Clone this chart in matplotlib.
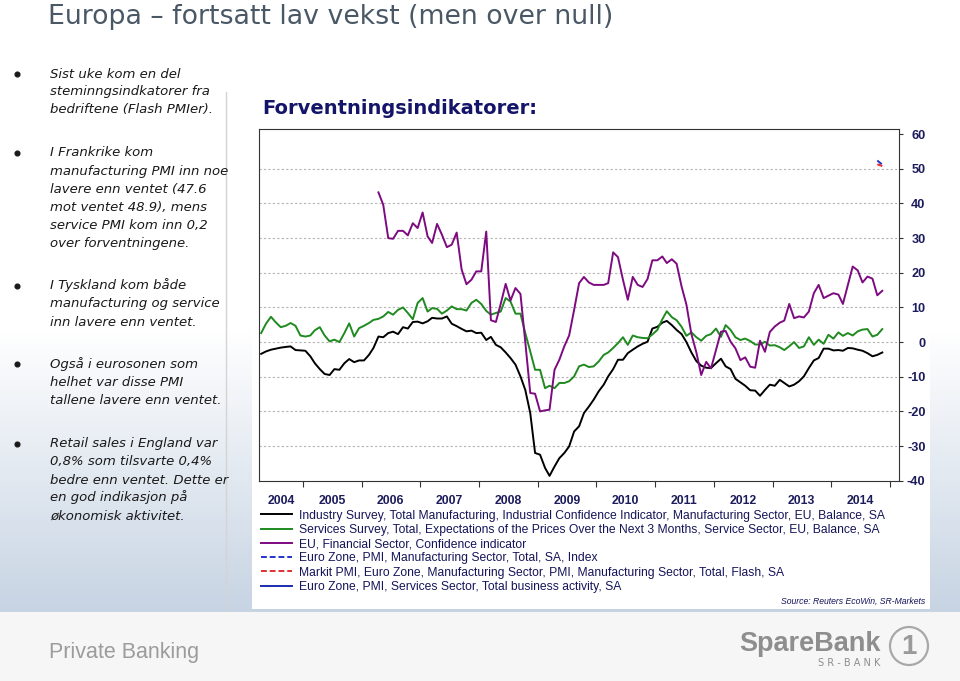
import numpy as np
import pandas as pd
import matplotlib
matplotlib.use('Agg')
import matplotlib.pyplot as plt
import matplotlib.dates as mdates
from matplotlib.patches import Rectangle, Circle
from matplotlib import font_manager

# ---- data (monthly) ----
industry_start = '2004-04-01'
industry = [-3.4, -2.7, -2.2, -1.9, -1.6, -1.4, -1.25, -2.3, -2.4,
            -2.5, -4.1, -6.1, -7.8, -9.2, -9.5, -7.8, -8.0, -6.1, -4.9, -5.8, -5.3,
            -5.3, -3.7, -1.7, 1.6, 1.4, 2.6, 3.0, 2.3, 4.3, 3.9, 5.8, 5.9,
            5.4, 6.0, 7.0, 6.8, 6.8, 7.4, 5.3, 4.6, 3.8, 3.1, 3.3, 2.6,
            2.7, 0.6, 1.5, -0.8, -1.5, -3.0, -4.6, -6.5, -9.9, -13.8, -20.5, -32.0,
            -32.5, -36.3, -38.6, -35.9, -33.5, -32.0, -30.1, -25.8, -24.3, -20.5, -18.6, -16.6,
            -14.2, -12.3, -9.9, -7.8, -5.1, -5.1, -3.2, -2.2, -1.25, -0.5, 0.1, 3.9,
            4.4, 5.6, 6.1, 4.9, 3.5, 2.3, 0.0, -3.0, -5.5, -6.8, -7.4, -7.5,
            -6.1, -4.8, -7.0, -7.8, -10.6, -11.6, -12.6, -13.9, -14.0, -15.5, -13.8, -12.3,
            -12.6, -10.9, -11.8, -12.8, -12.3, -11.3, -9.9, -7.5, -5.3, -4.6, -1.9, -1.9,
            -2.4, -2.3, -2.5, -1.7, -1.8, -2.2, -2.5, -3.2, -4.1, -3.7, -3.0]

services_start = '2004-04-01'
services = [2.6, 5.3, 7.3, 5.7, 4.3, 4.7, 5.5, 4.7, 1.9,
            1.6, 1.9, 3.4, 4.3, 1.9, 0.2, 0.7, 0.0, 2.6, 5.4, 1.6, 4.0,
            4.7, 5.5, 6.4, 6.7, 7.4, 8.7, 7.9, 9.3, 10.0, 8.4, 6.6, 11.3,
            12.7, 8.8, 9.8, 9.6, 8.2, 9.1, 10.3, 9.5, 9.5, 9.1, 11.3, 12.2,
            11.0, 9.0, 7.9, 8.4, 8.8, 12.7, 11.7, 8.2, 8.2, 2.6, -2.7, -8.0,
            -8.0, -13.3, -12.6, -13.3, -11.8, -11.8, -11.3, -9.9, -7.0, -6.5, -7.2, -7.0,
            -5.6, -3.7, -3.0, -1.7, -0.3, 1.4, -0.8, 1.9, 1.4, 1.2, 1.1, 2.2,
            3.5, 6.6, 8.9, 7.2, 6.3, 4.4, 1.8, 2.8, 1.4, 0.4, 1.8, 2.3,
            3.9, 1.5, 4.9, 3.5, 1.4, 0.6, 1.0, 0.3, -0.7, -0.7, 0.1, -1.0,
            -0.9, -1.5, -2.3, -1.2, 0.0, -1.7, -1.25, 1.4, -0.8, 0.7, -0.5, 2.1,
            1.0, 2.8, 1.8, 2.6, 1.9, 3.1, 3.6, 3.75, 1.6, 2.1, 3.75]

financial_start = '2006-04-01'
financial = [43.2, 39.6, 30.0, 29.8, 32.1, 32.1, 30.8, 34.3, 32.9,
             37.4, 30.5, 28.6, 34.1, 31.0, 27.4, 28.1, 31.6, 20.9, 16.7, 18.0, 20.4,
             20.4, 31.9, 6.3, 5.8, 11.0, 16.8, 12.0, 15.6, 13.9, 0.0, -14.7, -14.9,
             -20.0, -19.7, -19.5, -8.0, -5.1, -1.2, 1.9, 9.3, 17.0, 18.8, 17.2, 16.5,
             16.5, 16.5, 17.0, 25.9, 24.5, 18.0, 12.2, 18.8, 16.5, 15.9, 18.2, 23.6,
             23.6, 24.7, 22.8, 23.9, 22.6, 16.0, 10.8, 2.3, -3.0, -9.5, -5.7, -7.6,
             -2.3, 3.0, 3.2, 0.1, -1.8, -5.2, -4.4, -7.1, -7.4, 0.4, -2.8, 2.9,
             4.5, 5.6, 6.2, 11.0, 6.9, 7.4, 7.1, 8.8, 14.1, 16.5, 12.7, 13.4,
             14.1, 13.7, 11.0, 16.5, 21.8, 20.7, 17.2, 18.9, 18.3, 13.5, 14.8]

pmi_start = '2014-10-01'
pmi_manuf = [52.4, 51.2]
pmi_flash = [51.3, 50.8]
pmi_services = []

series_labels = [
    'Industry Survey, Total Manufacturing, Industrial Confidence Indicator, Manufacturing Sector, EU, Balance, SA',
    'Services Survey, Total, Expectations of the Prices Over the Next 3 Months, Service Sector, EU, Balance, SA',
    'EU, Financial Sector, Confidence indicator',
    'Euro Zone, PMI, Manufacturing Sector, Total, SA, Index',
    'Markit PMI, Euro Zone, Manufacturing Sector, PMI, Manufacturing Sector, Total, Flash, SA',
    'Euro Zone, PMI, Services Sector, Total business activity, SA',
]
year_labels = [str(y) for y in range(2004, 2015)]
y_ticks = list(range(-40, 61, 10))

slide_title = 'Europa \u2013 fortsatt lav vekst (men over null)'
chart_title = 'Forventningsindikatorer:'
bullets = [
    ['Sist uke kom en del', 'steminngsindkatorer fra', 'bedriftene (Flash PMIer).'],
    ['I Frankrike kom', 'manufacturing PMI inn noe', 'lavere enn ventet (47.6',
     'mot ventet 48.9), mens', 'service PMI kom inn 0,2', 'over forventningene.'],
    ['I Tyskland kom både', 'manufacturing og service', 'inn lavere enn ventet.'],
    ['Også i eurosonen som', 'helhet var disse PMI', 'tallene lavere enn ventet.'],
    ['Retail sales i England var', '0,8% som tilsvarte 0,4%', 'bedre enn ventet. Dette er',
     'en god indikasjon på', 'økonomisk aktivitet.'],
]
bullet_baselines = [77.5, 156.5, 289.5, 368, 447.5]


def monthly(start, values):
    return pd.date_range(start, periods=len(values), freq='MS') + pd.Timedelta(days=14)


available = {f.name for f in font_manager.fontManager.ttflist}
narrow = 'Liberation Sans Narrow' if 'Liberation Sans Narrow' in available else 'Liberation Sans'

W, H = 960, 681
fig = plt.figure(figsize=(9.6, 6.81), dpi=100)

# ---- slide background ----
bg = fig.add_axes([0, 0, 1, 1])
bg.set_xlim(0, W)
bg.set_ylim(H, 0)
bg.axis('off')
rows = np.arange(H)
t = np.clip((rows - 330) / (611 - 330), 0, 1)[:, None]
top_c = np.array([1.0, 1.0, 1.0])
bot_c = np.array([0.78, 0.83, 0.89])
grad = (1 - t) * top_c + t * bot_c
grad[612:] = [0.965, 0.965, 0.965]
bg.imshow(grad[:, None, :].repeat(4, axis=1), extent=[0, W, H, 0], aspect='auto', zorder=0)
bg.add_patch(Rectangle((252, 118), 678, 491, fc='white', ec='none', zorder=1))
bg.plot([226, 226], [92, 610], color='#d4d4d4', lw=1, zorder=2)

bg.text(48, 24, slide_title, fontsize=19.3, color='#4a5866', va='baseline', ha='left',
        family='DejaVu Sans', zorder=3)
for lines, base in zip(bullets, bullet_baselines):
    bg.plot(17, base - 4, 'o', ms=3.4, color='#1a1a1a', zorder=3)
    for i, line in enumerate(lines):
        bg.text(50, base + 18 * i, line, fontsize=9.5, style='italic', color='#1a1a1a',
                va='baseline', ha='left', family='DejaVu Sans', zorder=3)

bg.text(262, 114, chart_title, fontsize=14, weight='bold', color='#14146a',
        va='baseline', ha='left', family='DejaVu Sans', zorder=3)

# footer
bg.text(49, 658, 'Private Banking', fontsize=15.5, color='#9c9c9c', va='baseline', ha='left',
        family=narrow, zorder=3)
bg.text(881, 651, 'SpareBank', fontsize=19.5, weight='bold', color='#8e8e8e', va='baseline',
        ha='right', family=narrow, zorder=3)
bg.text(880, 666, 'S R - B A N K', fontsize=7, color='#8e8e8e', va='baseline', ha='right',
        family='DejaVu Sans', zorder=3)
bg.add_patch(Circle((909, 646), 19, fc='none', ec='#a8a8a8', lw=1.6, zorder=3))
bg.text(909, 647, '1', fontsize=20, weight='bold', color='#9a9a9a', ha='center', va='center',
        family=narrow, zorder=4)

# ---- chart ----
L, R, T, B = 258.9, 898.5, 129.3, 480.7
ax = fig.add_axes([L / W, 1 - B / H, (R - L) / W, (B - T) / H])
ax.set_facecolor('white')

ax.plot(monthly(industry_start, industry), industry, color='black', lw=1.4, label=series_labels[0])
ax.plot(monthly(services_start, services), services, color='#1f8a1f', lw=1.4, label=series_labels[1])
ax.plot(monthly(financial_start, financial), financial, color='#7d0a80', lw=1.4, label=series_labels[2])
ax.plot(monthly(pmi_start, pmi_manuf), pmi_manuf, color='#2233cc', lw=1.4, ls=(0, (3, 1.5)),
        label=series_labels[3])
ax.plot(monthly(pmi_start, pmi_flash), pmi_flash, color='#e03030', lw=1.4, ls=(0, (3, 1.5)),
        label=series_labels[4])
ax.plot(monthly(pmi_start, pmi_services), pmi_services, color='#1a2db0', lw=1.4,
        label=series_labels[5])

x0, x1 = pd.Timestamp('2004-04-01'), pd.Timestamp('2015-02-24')
ax.set_xlim(x0, x1)
ax.set_ylim(-40, 61.4)

ax.xaxis.set_major_locator(mdates.YearLocator())
ax.xaxis.set_major_formatter(plt.NullFormatter())
label_pos = [x0 + (pd.Timestamp('2005-01-01') - x0) / 2] + \
            [pd.Timestamp(f'{y}-07-01') for y in year_labels[1:]]
ax.set_xticks(label_pos, minor=True)
ax.set_xticklabels(year_labels, minor=True)
ax.tick_params(axis='x', which='major', length=4, width=0.8, color='#333333', direction='out')
ax.tick_params(axis='x', which='minor', length=0, pad=10, labelsize=8.8, labelcolor='#1c1c5c')
for lbl in ax.get_xticklabels(minor=True):
    lbl.set_fontweight('bold')
    lbl.set_family('Liberation Sans')

ax.yaxis.tick_right()
ax.set_yticks(y_ticks)
ax.set_yticklabels([str(v) for v in y_ticks])
ax.tick_params(axis='y', length=3, width=0.8, color='#333333', pad=16.5, labelsize=9.2,
               labelcolor='#1c1c5c')
for lbl in ax.get_yticklabels():
    lbl.set_fontweight('bold')
    lbl.set_family('Liberation Sans')
    lbl.set_horizontalalignment('right')

ax.grid(axis='y', color='#b4b4b4', lw=0.8, ls=(0, (2, 2)))
ax.get_ygridlines()[-1].set_visible(False)
ax.get_ygridlines()[0].set_visible(False)
for sp in ax.spines.values():
    sp.set_color('#333333')
    sp.set_linewidth(0.8)

leg = ax.legend(loc='upper left', bbox_to_anchor=(261 / W, 1 - 509.5 / H),
                bbox_transform=fig.transFigure, frameon=False,
                handlelength=2.6, handletextpad=0.55, labelspacing=0.19,
                borderpad=0, borderaxespad=0,
                prop={'family': 'Liberation Sans', 'size': 8.7})
for txt in leg.get_texts():
    txt.set_color('#15155a')

fig.text(925 / W, 1 - 604 / H, 'Source: Reuters EcoWin, SR-Markets', fontsize=6.2,
         style='italic', color='#15155a', ha='right', va='baseline', family='Liberation Sans')

fig.savefig('out.png', dpi=100)
